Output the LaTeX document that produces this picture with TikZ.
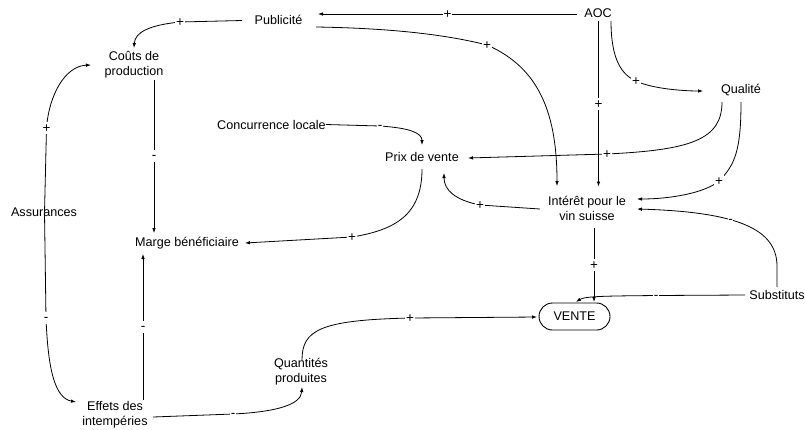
\documentclass[tikz,border=0pt]{standalone}
\usepackage{fontspec}
\setmainfont{Liberation Sans}
\usetikzlibrary{arrows.meta,shapes.misc}
\begin{document}
\begin{tikzpicture}[x=1pt,y=-1pt,
  lbl/.style={font=\fontsize{12.6}{15}\selectfont, inner sep=0pt, align=center},
  sgnbase/.style={fill=white, inner xsep=0.6pt, inner ysep=1.5pt, font=\fontsize{13.5}{13.5}\selectfont},
  sp/.style={sgnbase, text height=9.4pt, text depth=0pt},
  sm/.style={sgnbase, text height=8pt, text depth=0.8pt},
  arr/.style={-{Latex[length=5pt,width=3.6pt]}, line width=0.8pt},
  ]
\useasboundingbox (0,0) rectangle (805,429);
% nodes
\node[lbl] (pub) at (278.5,20) {Publicité};
\node[lbl] (aoc) at (598,13) {AOC};
\node[lbl] (cout) at (134,64.5) {Coûts de\\production};
\node[lbl] (qual) at (741,90) {Qualité};
\node[lbl] (conc) at (271.5,124.5) {Concurrence locale};
\node[lbl] (prix) at (422,157) {Prix de vente};
\node[lbl] (int) at (587,208.5) {Intérêt pour le\\vin suisse};
\node[lbl] (assur) at (44,212.5) {Assurances};
\node[lbl] (marge) at (187,243) {Marge bénéficiaire};
\node[lbl] (subs) at (777,295) {Substituts};
\node[lbl, draw, rounded rectangle, minimum width=71pt, minimum height=27pt, line width=0.9pt] (vente) at (574.5,316.5) {VENTE};
\node[lbl] (quant) at (301,372) {Quantités\\produites};
\node[lbl] (effets) at (115,414.5) {Effets des\\intempéries};
% connectors
\draw[arr] ([shift={(-21,1)}]aoc.center) -- node[sp]{+} ([shift={(39.5,-6)}]pub.center);
\draw[arr] ([shift={(-36.5,0.5)}]pub.center) -- (180,22) node[sp]{+} .. controls (150,25) and (135,32) .. ([shift={(0,-16.5)}]cout.center);
\draw[arr] ([shift={(37.5,7)}]pub.center) .. controls (380,28) and (440,33) .. (487,45) node[sp]{+} .. controls (540,68) and (557,115) .. ([shift={(-30,-22.5)}]int.center);
\draw[arr] ([shift={(0.5,8)}]aoc.center) -- node[sp]{+} ([shift={(11.5,-22)}]int.center);
\draw[arr] ([shift={(13,8)}]aoc.center) .. controls (611,60) and (622,75) .. (636,81) node[sp]{+} .. controls (650,88) and (680,91) .. ([shift={(-38,1)}]qual.center);
\draw[arr] ([shift={(-19,12)}]qual.center) .. controls (722,140) and (690,150) .. (607,154) node[sp]{+} -- ([shift={(46,1)}]prix.center);
\draw[arr] ([shift={(0,12)}]qual.center) .. controls (741,150) and (735,165) .. (719,181) node[sp]{+} .. controls (705,193) and (670,199) .. ([shift={(50,-9.5)}]int.center);
\draw[arr] ([shift={(0,-8)}]subs.center) -- (777,265) .. controls (776,230) and (740,212) .. ([shift={(50,0.5)}]int.center) node[sm,pos=0.6]{-};
\draw[arr] ([shift={(-32,0)}]subs.center) -- (656,295.5) node[sm]{-} .. controls (610,296) and (585,296) .. ([shift={(1.5,-14.5)}]vente.center);
\draw[arr] ([shift={(7,19.5)}]int.center) -- node[sp]{+} ([shift={(19.5,-14.5)}]vente.center);
\draw[arr] ([shift={(-47,0.5)}]int.center) -- (480,205) node[sp]{+} .. controls (455,200) and (444,190) .. ([shift={(22,16)}]prix.center);
\draw[arr] (conc.east) -- (380,126) node[sm]{-} .. controls (410,128) and (422,133) .. ([shift={(0,-12)}]prix.center);
\draw[arr] ([shift={(0,12)}]prix.center) .. controls (422,215) and (395,230) .. (352,237) node[sp]{+} -- ([shift={(58,0)}]marge.center);
\draw[arr] ([shift={(20,15)}]cout.center) -- node[sm]{-} ([shift={(-33,-10)}]marge.center);
\draw[arr] ([shift={(0.5,0)}]assur.center) -- (46.5,128) node[sp]{+} .. controls (49,95) and (65,66) .. ([shift={(-43,0.5)}]cout.center);
\draw[arr] ([shift={(0.5,0)}]assur.center) -- (46,318) node[sm]{-} .. controls (48,370) and (55,398) .. ([shift={(-39,-12.5)}]effets.center);
\draw[arr] ([shift={(28,-14.5)}]effets.center) -- node[sm]{-} ([shift={(-44,11)}]marge.center);
\draw[arr] ([shift={(38,2.5)}]effets.center) -- (233,414) node[sm]{-} .. controls (275,412) and (301,405) .. ([shift={(1,15)}]quant.center);
\draw[arr] ([shift={(1,-12)}]quant.center) .. controls (302,330) and (320,320) .. (410,318) node[sp]{+} -- ([shift={(-37.5,0.5)}]vente.center);
\end{tikzpicture}
\end{document}
